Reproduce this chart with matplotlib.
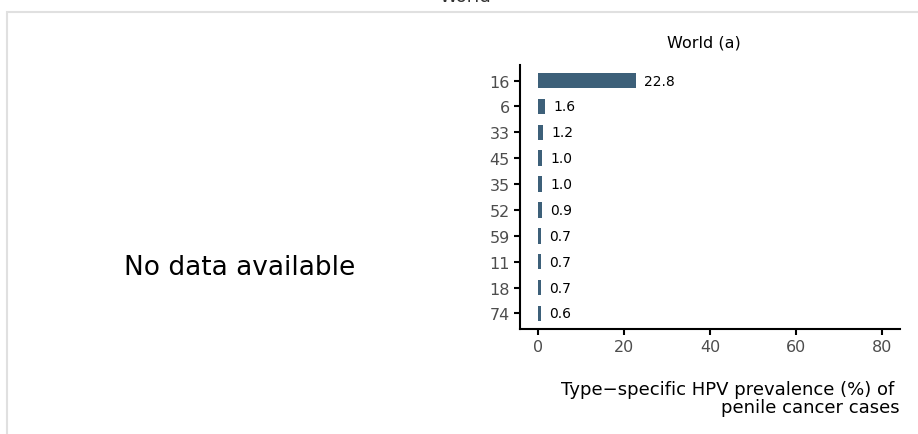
import matplotlib.pyplot as plt
import matplotlib.patches as mpatches

# HPV types and prevalence (%) - World (a)
hpv_types = ["16", "6", "33", "45", "35", "52", "59", "11", "18", "74"]
prevalence = [22.8, 1.6, 1.2, 1.0, 1.0, 0.9, 0.7, 0.7, 0.7, 0.6]
x_ticks = [0, 20, 40, 60, 80]

W, H = 918, 435
fig = plt.figure(figsize=(W / 100, H / 100), dpi=100)

# light grey frame, partly cut off
fig.patches.append(mpatches.Rectangle((7 / W, -0.1), 1.1, 1 - 12.5 / H + 0.1,
                                      transform=fig.transFigure, fill=False,
                                      edgecolor="#e0e0e0", linewidth=1.5))
# title cut off at the top
fig.text(465 / W, 1 - 2 / H, "World", ha="center", va="baseline", fontsize=13, color="#333333")

fig.text(240 / W, 1 - 268 / H, "No data available", ha="center", va="center", fontsize=19)

ax = fig.add_axes([520 / W, 1 - 330 / H, (900 - 520) / W, (330 - 66) / H])
ypos = list(range(len(hpv_types)))[::-1]
ax.barh(ypos, prevalence, height=0.6, color="#3d6079")
for y, v in zip(ypos, prevalence):
    ax.annotate(f"{v:.1f}", (v, y), xytext=(6, 0), textcoords="offset points",
                ha="left", va="center", fontsize=10)

ax.set_xlim(-4.2, 84.2)
ax.set_ylim(-0.6, 9.6)
ax.set_yticks(ypos)
ax.set_yticklabels(hpv_types)
ax.set_xticks(x_ticks)
ax.tick_params(axis="both", labelsize=11.5, labelcolor="#4d4d4d", width=1.5, length=4)
for s in ["top", "right"]:
    ax.spines[s].set_visible(False)
for s in ["left", "bottom"]:
    ax.spines[s].set_linewidth(1.5)

fig.text(704 / W, 1 - 43 / H, "World (a)", ha="center", va="center", fontsize=11.5)
fig.text(900 / W, 1 - 399 / H, "Type\u2212specific HPV prevalence (%) of \npenile cancer cases",
         ha="right", va="center", fontsize=13, linespacing=0.95)

fig.savefig("out.png", dpi=100)
